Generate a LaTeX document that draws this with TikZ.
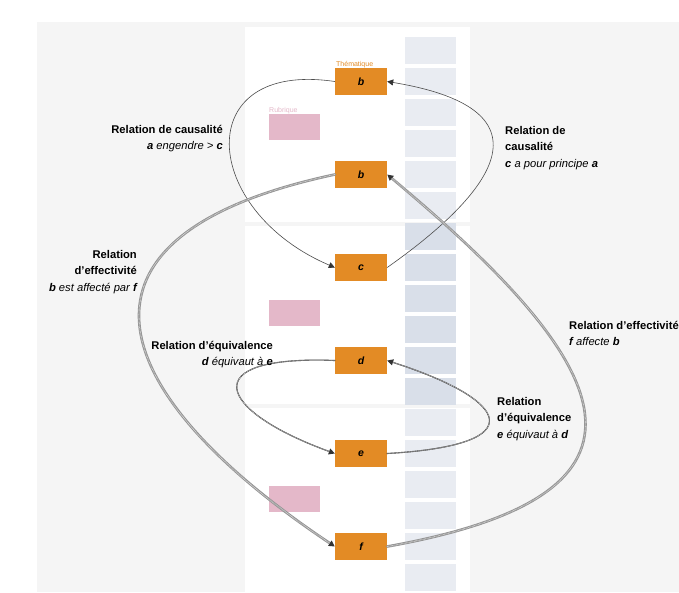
\documentclass[tikz,border=0pt]{standalone}
\usepackage{fontspec}
\setmainfont{Liberation Sans}
\usetikzlibrary{arrows.meta}
\definecolor{fond}{HTML}{F5F5F5}
\definecolor{orangeT}{HTML}{E38B25}
\definecolor{bleuC}{HTML}{E9ECF2}
\definecolor{bleuF}{HTML}{D9DFE9}
\definecolor{rose}{HTML}{E4B8C9}
\begin{document}
\begin{tikzpicture}[x=1pt, y=-1pt, line join=round, line cap=round, >={Triangle[length=6pt,width=6pt,color=black!80]}, font=\fontsize{11.2}{16.5}\selectfont]
	\tikzset{notion/.style={fill=orangeT, minimum width=52pt, minimum height=27pt, inner sep=0pt, font=\fontsize{10.5}{12}\selectfont\bfseries\itshape},
		causal/.style={->, black!70, line width=0.6pt},
		effect/.style={->, gray!85, line width=2.6pt, postaction={draw=gray!25, -, line cap=butt, line width=1pt, dash pattern=on 0.5pt off 0.8pt, shorten >=6pt}},
		equiv/.style={->, black!85, line width=1.1pt, postaction={draw=white, -, line width=0.25pt, shorten >=6pt}},
		legende/.style={inner sep=0pt}}
	\useasboundingbox (0,0) rectangle (679,592);
	\fill[fond] (37,22) rectangle (679,592);
	\foreach \ya/\yb in {27/222,226/404,408/592}
		\fill[white] (245,\ya) rectangle (470,\yb);
	\foreach \k in {0,...,5,12,13,...,17}
		\fill[bleuC] (405,{37+31*\k}) rectangle (456,{64+31*\k});
	\foreach \k in {6,...,11}
		\fill[bleuF] (405,{37+31*\k}) rectangle (456,{64+31*\k});
	\foreach \y in {114,300,486}
		\fill[rose] (269,\y) rectangle (320,{\y+26});
	\node[inner sep=0pt, anchor=base west, text=orangeT, font=\fontsize{7}{8}\selectfont] (them) at (336,66) {Thématique};
	\node[inner sep=0pt, anchor=base west, text=rose, font=\fontsize{7}{8}\selectfont] (rub) at (269,112) {Rubrique};
	\foreach \n/\t [count=\i from 0] in {B1/b,B2/b,C/c,D/d,E/e,F/f}
		\node[notion] (\n) at (361,{81.5+93*\i}) {\t};
	\draw[causal] (B1.west) .. controls (190,60) and (200,210) .. (C.west);
	\draw[causal] (C.east) .. controls (490,195) and (560,110) .. (B1.east);
	\draw[effect] (B2.west) .. controls (50,235) and (100,390) .. (F.west);
	\draw[effect] (F.east) .. controls (682,494) and (618,367) .. (B2.east);
	\draw[equiv] (D.west) .. controls (195,355) and (215,410) .. (E.west);
	\draw[equiv] (E.east) .. controls (535,445) and (510,400) .. (D.east);
	\node[legende, anchor=north east, align=right] (L1) at (223,125) {{\bfseries Relation de causalité}\\{\itshape\textbf{a} engendre > \textbf{c}}};
	\node[legende, anchor=north west, align=left] (L2) at (505,126) {{\bfseries Relation de}\\{\bfseries causalité}\\{\itshape\textbf{c} a pour principe \textbf{a}}};
	\node[legende, anchor=north east, align=right] (L3) at (137,250) {{\bfseries Relation}\\{\bfseries d'effectivité}\\{\itshape\textbf{b} est affecté par \textbf{f}}};
	\node[legende, anchor=north east, align=right] (L4) at (273,341) {{\bfseries Relation d'équivalence}\\{\itshape\textbf{d} équivaut à \textbf{e}}};
	\node[legende, anchor=north west, align=left] (L5) at (569,321) {{\bfseries Relation d'effectivité}\\{\itshape\textbf{f} affecte \textbf{b}}};
	\node[legende, anchor=north west, align=left] (L6) at (497,397) {{\bfseries Relation}\\{\bfseries d'équivalence}\\{\itshape\textbf{e} équivaut à \textbf{d}}};
\end{tikzpicture}
\end{document}
